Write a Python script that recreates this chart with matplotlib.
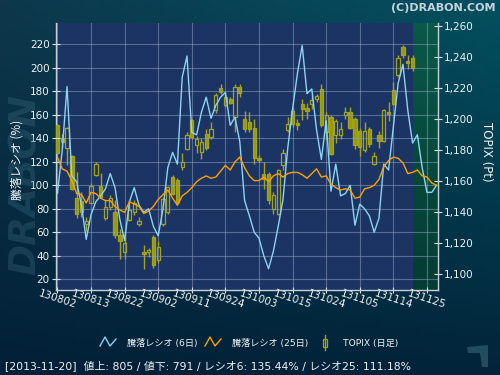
import numpy as np
import matplotlib
matplotlib.use('Agg')
import matplotlib.pyplot as plt
from matplotlib.patches import Rectangle, Polygon
from matplotlib.lines import Line2D

plt.rcParams['font.family'] = ['DejaVu Sans', 'Noto Sans CJK JP']

# ---------------- data ----------------
tick_labels = ['130802', '130813', '130822', '130902', '130911', '130924',
               '131003', '131015', '131024', '131105', '131114', '131125']
tick_pos = [0, 7, 14, 21, 28, 35, 42, 49, 56, 63, 70, 77]

ratio6 = [93, 130, 184, 108, 103, 83, 54, 75, 86, 91,
          97, 110, 98, 71, 53, 86, 98, 83, 77, 80,
          65, 57, 80, 115, 128, 118, 192, 210, 145, 143,
          162, 175, 157, 168, 175, 179, 151, 158, 137, 87,
          74, 60, 55, 40, 29, 44, 65, 88, 132, 165,
          195, 219, 178, 182, 147, 122, 155, 95, 118, 91,
          93, 100, 66, 84, 80, 74, 60, 72, 118, 113,
          150, 187, 203, 164, 136, 143, 115, 94, 94, 100]

ratio25 = [124, 114, 112, 104, 93, 92, 85, 94, 93, 89,
           87, 87, 82, 79, 77, 86, 84, 82, 76, 78,
           82, 88, 92, 96, 89, 83, 91, 94, 98, 103,
           106, 108, 106, 107, 112, 117, 113, 120, 124, 115,
           108, 104, 104, 107, 103, 108, 110, 107, 110, 111,
           111, 109, 106, 110, 114, 107, 108, 101, 98, 96,
           97, 96, 89, 90, 97, 98, 100, 105, 116, 121,
           124, 123, 119, 110, 111, 113, 108, 107, 102, 100]

topix_open = [1196, 1188, 1181, 1176, 1149, 1147, 1132, 1146, 1164, 1157,
              1136, 1143, 1140, 1125, 1114, 1135, 1140, 1132.5, 1114, 1114.2,
              1124, 1108.8, 1132.5, 1140, 1162.6, 1160.4, 1169, 1180.9, 1199.1, 1183.4,
              1178.7, 1190.5, 1188.4, 1205.8, 1219.8, 1209, 1212.7, 1201.3, 1220.6, 1199.8,
              1198.1, 1194.2, 1175.1, 1164.7, 1164.7, 1142.2, 1139, 1170.1, 1192.7, 1205,
              1197.4, 1209.9, 1207.1, 1209.9, 1213.1, 1219.1, 1191.6, 1201.3, 1189.9, 1189.5,
              1202.8, 1204.5, 1200.2, 1192, 1179.8, 1193.3, 1171.2, 1189.9, 1185.6, 1204.5,
              1218.5, 1228.6, 1246.5, 1237.2, 1239.4]
topix_close = [1178, 1185, 1194, 1155, 1139, 1140, 1134, 1157, 1171, 1150,
               1143, 1149, 1125, 1121, 1120, 1141, 1146, 1134.5, 1113, 1115.7,
               1105.6, 1117.4, 1148.6, 1156, 1151.8, 1146.5, 1172.3, 1189.5, 1188.4, 1187.3,
               1185.2, 1181.3, 1193.3, 1215.3, 1217.6, 1214.2, 1210.5, 1220.6, 1217, 1193.8,
               1193.3, 1174.8, 1173.8, 1161.5, 1147.5, 1150.8, 1166.9, 1178.1, 1197, 1197,
               1196, 1206.2, 1205.4, 1212, 1214.8, 1195.9, 1202.8, 1177.6, 1198.5, 1193.3,
               1204.5, 1194.2, 1183, 1181.9, 1192, 1184, 1175.9, 1185.6, 1205.6, 1203.4,
               1209.9, 1239.4, 1241.5, 1236.3, 1232.9]
topix_high = [1197, 1190, 1195, 1177, 1166, 1153, 1137, 1159, 1172, 1165,
              1148, 1151, 1148, 1129, 1127, 1145, 1148, 1137, 1118.5, 1117,
              1125, 1121, 1149, 1157, 1164, 1162, 1178, 1191.5, 1200, 1189,
              1188, 1193.8, 1198, 1217, 1222.8, 1216, 1214, 1222.8, 1222.8, 1205,
              1204.5, 1200.2, 1176.5, 1172.3, 1165.8, 1152.9, 1168, 1180.9, 1201.3, 1207,
              1199.8, 1213, 1210, 1216.3, 1216.3, 1222.8, 1204.5, 1202.4, 1200.2, 1198,
              1207.7, 1207.7, 1201.3, 1194, 1198, 1195, 1178.6, 1192, 1206.5, 1211,
              1223.9, 1241, 1247.5, 1241, 1241.5]
topix_low = [1177, 1181, 1170, 1154, 1136, 1137, 1128, 1145, 1163, 1149,
             1135, 1141, 1123, 1110, 1110, 1134, 1138, 1131, 1103.5, 1111,
             1104, 1107, 1131, 1139, 1151, 1145, 1167, 1180, 1187, 1178,
             1174, 1180, 1187.3, 1204, 1216.3, 1207.5, 1209.5, 1191.6, 1214.2, 1191.6,
             1191.6, 1171.2, 1172.5, 1155, 1145.4, 1139, 1137.8, 1166.9, 1191.6, 1195,
             1193, 1199.1, 1200, 1206.7, 1211, 1195, 1186.2, 1176.6, 1184.7, 1187.3,
             1200.2, 1193.8, 1180.9, 1176, 1178.6, 1182, 1170, 1181, 1185, 1199,
             1208.8, 1227.1, 1239.4, 1232, 1230.8]

left_ticks = [20, 40, 60, 80, 100, 120, 140, 160, 180, 200, 220]
right_ticks = [1100, 1120, 1140, 1160, 1180, 1200, 1220, 1240, 1260]

# ---------------- figure ----------------
W, H = 500, 375
fig = plt.figure(figsize=(5, 3.75), dpi=100)

def fx(px):
    return px / W

def fy(py):
    return 1 - py / H

# background gradient
bg = fig.add_axes([0, 0, 1, 1], zorder=-10)
bg.set_axis_off()
tl = np.array([0x0d, 0x38, 0x4c]) / 255
tr = np.array([0x03, 0x50, 0x60]) / 255
bl = np.array([0x02, 0x20, 0x38]) / 255
br = np.array([0x02, 0x24, 0x3a]) / 255
u = np.linspace(0, 1, 100)[None, :, None]
v = np.linspace(0, 1, 80)[:, None, None]
img = (1 - v) * ((1 - u) * tl + u * tr) + v * ((1 - u) * bl + u * br)
bg.imshow(img, aspect='auto', extent=[0, 1, 0, 1])
bg.set_xlim(0, 1)
bg.set_ylim(0, 1)

# watermark
fig.text(fx(26), fy(185), 'DRABON', rotation=90, fontsize=27, fontweight='bold',
         fontstyle='italic', color='#3d6a7e', alpha=0.35, ha='center', va='center')

# main axes (price)
ax = fig.add_axes([fx(56), fy(290), (438 - 56) / W, (290 - 23) / H])
ax.set_facecolor('#1c3463')
xmin, xmax = -0.3, 79.3
pmin, pmax = 1089.7, 1261.9

# green future area
grad = np.linspace(0, 1, 50)[:, None, None]
gtop = np.array([0x0a, 0x58, 0x47]) / 255
gbot = np.array([0x04, 0x3c, 0x32]) / 255
gimg = (1 - grad) * gtop + grad * gbot
gimg = np.repeat(gimg, 2, axis=1)
ax.imshow(gimg, aspect='auto', extent=[74.1, xmax, pmin, pmax], zorder=0.5)

# candles
cfill = '#9a9a08'
cedge = '#a4a41c'
for i in range(len(topix_open)):
    o, c, hi, lo = topix_open[i], topix_close[i], topix_high[i], topix_low[i]
    top, bot = max(o, c), min(o, c)
    ax.plot([i, i], [top, hi], color=cedge, lw=1, zorder=2, solid_capstyle='butt')
    ax.plot([i, i], [lo, bot], color=cedge, lw=1, zorder=2, solid_capstyle='butt')
    filled = c < o
    ax.add_patch(Rectangle((i - 0.35, bot), 0.7, max(top - bot, 0.6),
                           facecolor=cfill if filled else 'none',
                           edgecolor=cedge, lw=0.9, zorder=3))

ax.set_xlim(xmin, xmax)
ax.set_ylim(pmin, pmax)
ax.set_xticks(tick_pos)
ax.set_xticklabels(tick_labels, rotation=-18, rotation_mode='anchor',
                   ha='center', va='center')
ax.grid(axis='x', color='#8a9cc0', alpha=0.55, lw=0.8)
ax.tick_params(axis='x', direction='inout', length=5, colors='#d8dee4',
               labelsize=7.5, pad=4.5, labelcolor='#eef2f4')
for s in ['left', 'bottom', 'right']:
    ax.spines[s].set_color('#c8d0d8')
    ax.spines[s].set_linewidth(1)
ax.spines['top'].set_visible(False)

# ratio axes
ax2 = ax.twinx()
ax2.set_ylim(10.9, 238.1)
ax2.set_xlim(xmin, xmax)
xs = np.arange(len(ratio6))
ax2.plot(xs, ratio6, color='#8cd4f2', lw=1.0, zorder=4)
ax2.plot(np.arange(len(ratio25)), ratio25, color='#ffa000', lw=1.0, zorder=5)
ax2.yaxis.tick_left()
ax2.set_yticks(left_ticks)
ax2.tick_params(axis='y', direction='inout', length=6, colors='#d8dee4',
                labelsize=7.5, pad=1.5, labelcolor='#eef2f4')
ax2.grid(axis='y', color='#8a9cc0', alpha=0.55, lw=0.8)
for s in ax2.spines.values():
    s.set_visible(False)

# price ticks on the right (after twinx, which moves them)
ax.yaxis.tick_right()
ax.set_yticks(right_ticks)
ax.set_yticklabels(['{:,}'.format(t) for t in right_ticks])
ax.tick_params(axis='y', direction='inout', length=6, colors='#d8dee4',
               labelsize=7.5, pad=1.5, labelcolor='#eef2f4')

# axis titles
fig.text(fx(17), fy(160), '騰落レシオ (%)', rotation=90, color='#f0f4f6',
         fontsize=8.5, ha='center', va='center', family=['Noto Sans CJK JP', 'DejaVu Sans'])
fig.text(fx(486), fy(152), 'TOPIX (Pt)', rotation=-90, color='#f0f4f6',
         fontsize=8.5, ha='center', va='center')

# header
fig.text(fx(496), fy(8), '(C)DRABON.COM', color='#c8d4dc', fontsize=8,
         fontweight='bold', ha='right', va='center')

# legend
def fig_line(xp, yp, color, lw=1):
    fig.add_artist(Line2D([fx(a) for a in xp], [fy(b) for b in yp],
                          transform=fig.transFigure, color=color, lw=lw))

fig_line([100, 105, 110, 116], [346, 337, 346, 339], '#8cd4f2')
fig_line([205, 210, 215, 221], [346, 337, 346, 339], '#ffa000')
fig.add_artist(Line2D([fx(325), fx(325)], [fy(335), fy(350)],
                      transform=fig.transFigure, color=cedge, lw=1))
fig.add_artist(Rectangle((fx(323), fy(347)), fx(4), fy(339) - fy(347),
                         transform=fig.transFigure, facecolor='#0a2a40',
                         edgecolor=cedge, lw=0.9))
lkw = dict(color='#eef2f4', fontsize=6.6, va='center',
           family=['DejaVu Sans', 'Noto Sans CJK JP'])
fig.text(fx(127), fy(343), '騰落レシオ (6日)', **lkw)
fig.text(fx(232), fy(343), '騰落レシオ (25日)', **lkw)
fig.text(fx(343), fy(343), 'TOPIX (日足)', **lkw)

# status line
fig.text(fx(5), fy(366),
         '[2013-11-20]  値上: 805 / 値下: 791 / レシオ6: 135.44% / レシオ25: 111.18%',
         color='#eef2f4', fontsize=7.85, va='center',
         family=['DejaVu Sans', 'Noto Sans CJK JP'])

# faint icon bottom right
fig.add_artist(Polygon([(fx(467), fy(347)), (fx(488), fy(345)), (fx(488), fy(367)),
                        (fx(482), fy(367)), (fx(480), fy(353)), (fx(468), fy(353))],
                       closed=True, transform=fig.transFigure,
                       facecolor='#3a6676', edgecolor='none', alpha=0.6))

fig.savefig('out.png', dpi=100)
